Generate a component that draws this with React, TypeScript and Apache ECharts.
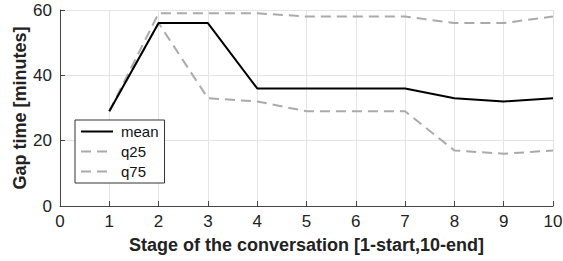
import React, { useEffect, useRef } from "react";
import * as echarts from "echarts";

const stages = [1, 2, 3, 4, 5, 6, 7, 8, 9, 10];
const meanValues = [29, 56, 56, 36, 36, 36, 36, 33, 32, 33];
const q25Values = [29, 56, 33, 32, 29, 29, 29, 17, 16, 17];
const q75Values = [29, 59, 59, 59, 58, 58, 58, 56, 56, 58];
const seriesNames = ["mean", "q25", "q75"];

const solidIcon = "path://M0,0h32v2h-32z";
const dashedIcon = "path://M0,0h10v2h-10z M16,0h10v2h-10z M32,0h0.01v2h-0.01z";

export default function App() {
  const ref = useRef<HTMLDivElement>(null);
  useEffect(() => {
    if (!ref.current) return;
    const chart = echarts.init(ref.current, undefined, { renderer: "svg" });
    const font = "'Liberation Sans', Arial, Helvetica, sans-serif";
    const toPairs = (vals: number[]) => stages.map((s, i) => [s, vals[i]]);
    chart.setOption({
      animation: false,
      textStyle: { fontFamily: font },
      grid: { left: 60, right: 10, top: 10, bottom: 55, outerBoundsMode: "none", containLabel: false },
      legend: {
        orient: "vertical",
        left: 75,
        top: 120,
        data: seriesNames.map((n, i) => ({ name: n, icon: i === 0 ? solidIcon : dashedIcon })),
        backgroundColor: "#fff",
        borderColor: "#333",
        borderWidth: 1,
        borderRadius: 0,
        padding: [4, 6, 4, 6],
        itemGap: 5,
        itemWidth: 32,
        itemHeight: 14,
        textStyle: { fontFamily: font, fontSize: 15, color: "#111", padding: [0, 0, 0, 3] },
      },
      xAxis: {
        type: "value",
        min: 0,
        max: 10,
        interval: 1,
        name: "Stage of the conversation [1-start,10-end]",
        nameLocation: "middle",
        nameGap: 30,
        nameMoveOverlap: false,
        nameTextStyle: { fontFamily: font, fontSize: 18, fontWeight: "bold", color: "#222" },
        axisLine: { lineStyle: { color: "#444", width: 1 } },
        axisTick: { inside: true, length: 5, lineStyle: { color: "#444" } },
        axisLabel: { fontSize: 17, color: "#222", margin: 7 },
        splitLine: { show: true, lineStyle: { color: "#e4e4e4", width: 1 } },
      },
      yAxis: {
        type: "value",
        min: 0,
        max: 60,
        interval: 20,
        name: "Gap time [minutes]",
        nameLocation: "middle",
        nameGap: 31,
        nameMoveOverlap: false,
        nameTextStyle: { fontFamily: font, fontSize: 18, fontWeight: "bold", color: "#222" },
        axisLine: { show: true, lineStyle: { color: "#444", width: 1 } },
        axisTick: { show: true, inside: true, length: 5, lineStyle: { color: "#444" } },
        axisLabel: { fontSize: 17, color: "#222", margin: 8 },
        splitLine: { show: true, lineStyle: { color: "#e4e4e4", width: 1 } },
      },
      series: [
        {
          name: "mean",
          type: "line",
          data: toPairs(meanValues),
          symbol: "none",
          lineStyle: { color: "#000", width: 2 },
          itemStyle: { color: "#000" },
          z: 3,
        },
        {
          name: "q25",
          type: "line",
          data: toPairs(q25Values),
          symbol: "none",
          lineStyle: { color: "#aaaaaa", width: 2, type: [10, 6] },
          itemStyle: { color: "#aaaaaa" },
          z: 2,
        },
        {
          name: "q75",
          type: "line",
          data: toPairs(q75Values),
          symbol: "none",
          lineStyle: { color: "#aaaaaa", width: 2, type: [10, 6] },
          itemStyle: { color: "#aaaaaa" },
          z: 2,
        },
      ],
    });
    return () => chart.dispose();
  }, []);
  return <div ref={ref} style={{ width: 563, height: 261, position: "absolute", left: 0, top: 0 }} />;
}
